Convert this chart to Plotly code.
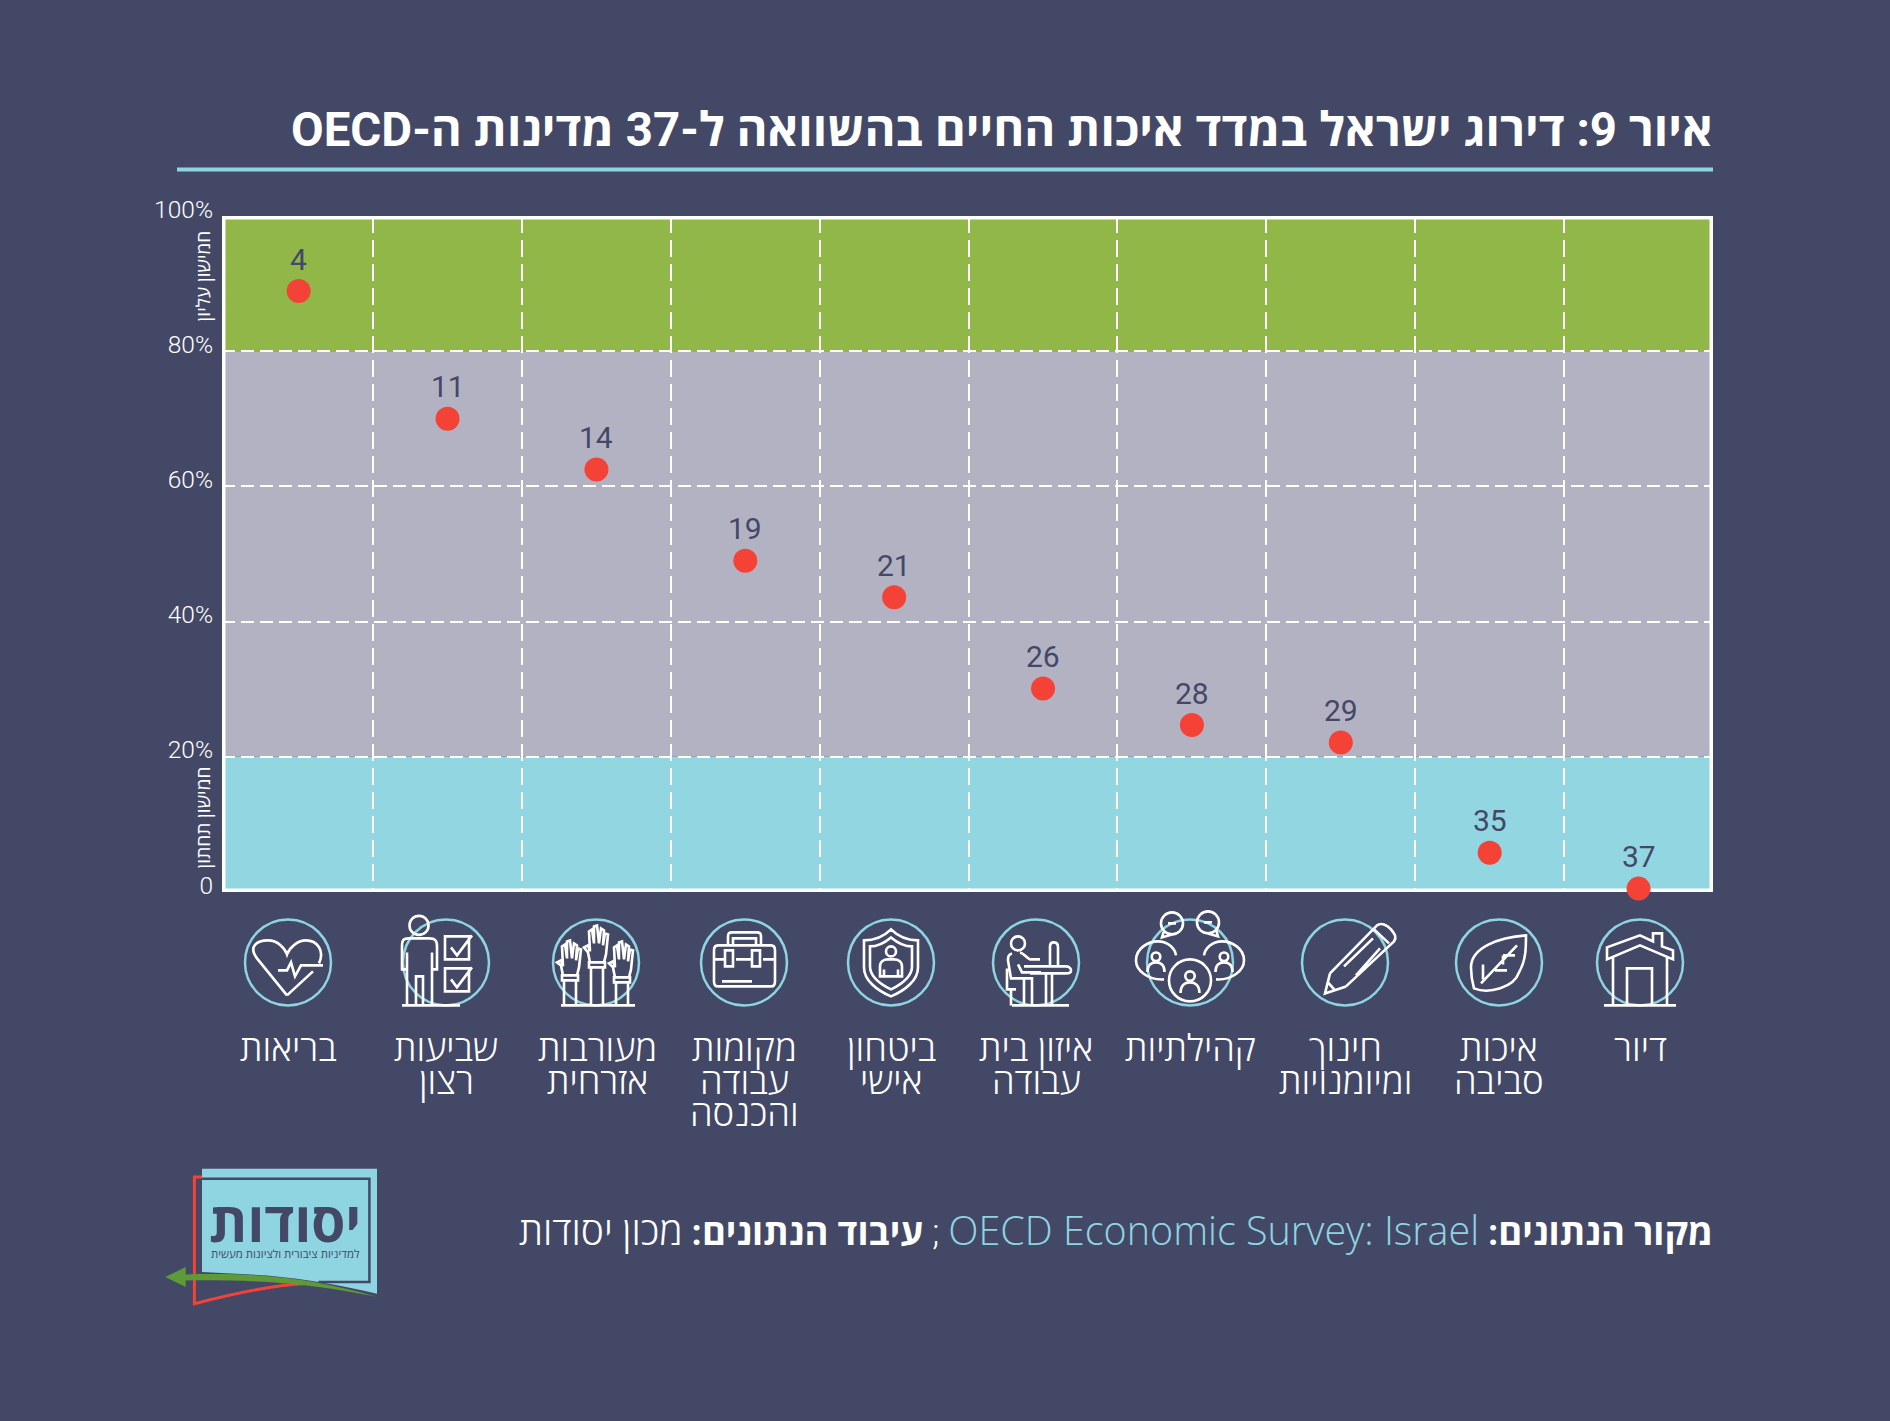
import re
import plotly.graph_objects as go

# ---------- data ----------
categories = [["בריאות"], ["שביעות", "רצון"], ["מעורבות", "אזרחית"], ["מקומות", "עבודה", "והכנסה"],
              ["ביטחון", "אישי"], ["איזון בית", "עבודה"], ["קהילתיות"], ["חינוך", "ומיומנויות"],
              ["איכות", "סביבה"], ["דיור"]]
ranks = [4, 11, 14, 19, 21, 26, 28, 29, 35, 37]
percentiles = [88.9, 70.0, 62.5, 49.0, 43.6, 30.1, 24.7, 22.1, 5.8, 0.5]
y_ticks = [0, 20, 40, 60, 80, 100]
y_labels = ["0", "20%", "40%", "60%", "80%", "100%"]
bands = [(80, 100, "#91B748"), (20, 80, "#B3B2C3"), (0, 20, "#91D6E0")]

TITLE = "איור 9: דירוג ישראל במדד איכות החיים בהשוואה ל-37 מדינות ה-OECD"
BG, TEAL, WHITE, RED = "#444867", "#8FD5E1", "#FFFFFF", "#F44336"
FONT = "Roboto, 'Open Sans', 'Liberation Sans', sans-serif"
HEB = "'Open Sans', 'Liberation Sans', sans-serif"
RLE, PDF = "\u202b", "\u202c"

W, H = 1890, 1421
L, R, T, B = 222, 1713, 215.6, 891.6
X0, X1 = -0.515, 9.5
px = lambda x: (x - L) / (R - L)
py = lambda y: 1 - (y - T) / (B - T)

def path(cx, cy, d):
    out, nums = [], []
    for tok in re.findall(r"[MLCQZ]|-?\d+\.?\d*", d):
        if tok in "MLCQZ":
            out.append(tok)
        else:
            nums.append(float(tok))
            if len(nums) == 2:
                out.append(f"{px(cx + nums[0]):.5f},{py(cy + nums[1]):.5f}")
                nums = []
    return " ".join(out)

def circ(x, y, r):
    k = r * 0.5523
    return (f"M{x-r} {y} C{x-r} {y-k} {x-k} {y-r} {x} {y-r} C{x+k} {y-r} {x+r} {y-k} {x+r} {y} "
            f"C{x+r} {y+k} {x+k} {y+r} {x} {y+r} C{x-k} {y+r} {x-r} {y+k} {x-r} {y} ")

def bust(x, y, s=1.0):
    return circ(x, y - 6 * s, 4.5 * s) + (f"M{x-9*s} {y+10*s} C{x-9*s} {y+2*s} {x-4*s} {y} {x} {y} "
                                          f"C{x+4*s} {y} {x+9*s} {y+2*s} {x+9*s} {y+10*s} ")

def hand(x, top, cuff, base):
    return (f"M{x-7} {cuff} L{x-9} {cuff-10} L{x-13} {top+22} L{x-9} {top+20} L{x-7} {top+26} L{x-8} {top+6} "
            f"L{x-5} {top+4} L{x-3} {top+18} L{x-3} {top+1} L{x} {top} L{x+2} {top+18} L{x+4} {top+3} L{x+7} {top+5} "
            f"L{x+6} {top+20} L{x+8} {top+8} L{x+11} {top+9} L{x+9} {cuff-8} L{x+7} {cuff} Z "
            f"M{x-8} {cuff} L{x+8} {cuff} L{x+8} {cuff+5} L{x-8} {cuff+5} Z "
            f"M{x-6} {cuff+5} L{x-6} {base} M{x+6} {cuff+5} L{x+6} {base} ")

icon_centres = [(288, 962), (446, 962), (596, 962), (744, 962), (891, 962),
                (1036, 962), (1190, 962), (1345, 962), (1499, 962), (1640, 962)]
icons = [
    # health
    "M-1 33 L-31 -4 C-40 -16 -31 -22 -20 -22 C-10 -22 -3 -14 -1 -8 C1 -14 9 -22 18 -22 C29 -22 37 -12 31 1 "
    "M25 9 L-1 33 M-10 8 L-1 8 L3 0 L7 14 L13 3 L35 3",
    # satisfaction
    circ(-27, -37, 9.5) + "M-37 -24 L-17 -24 C-11 -24 -9 -22 -9 -16 L-9 7 L-14 7 L-14 -10 M-37 -24 C-43 -24 -44 -22 -44 -16 "
    "L-44 7 L-39 7 L-39 -10 M-39 7 L-39 43 M-14 7 L-14 43 M-30 43 L-30 14 L-23 14 L-23 43 "
    "M-1 -26 L23 -26 L23 -3 L-1 -3 Z M5 -15 L11 -7 L26 -27 M-1 6 L23 6 L23 29 L-1 29 Z M5 17 L11 25 L26 5 M-44 43 L14 43",
    # civic engagement
    hand(1, -37, 0, 43) + hand(-26, -22, 13, 43) + hand(26, -21, 15, 43) + "M-35 43 L39 43",
    # jobs
    "M-26 -17 L27 -17 C30 -17 31 -15 31 -12 L31 19 C31 22 30 24 27 24 L-26 24 C-29 24 -30 22 -30 19 L-30 -12 C-30 -15 -29 -17 -26 -17 Z "
    "M-16 -17 L-16 -26 C-16 -29 -15 -30 -12 -30 L13 -30 C16 -30 17 -29 17 -26 L17 -17 M-11 -17 L-11 -24 L12 -24 L12 -17 "
    "M-30 -3 L-19 -3 M-8 -3 L8 -3 M19 -3 L31 -3 M-19 -12 L-11 -12 L-11 4 L-19 4 Z M8 -12 L16 -12 L16 4 L8 4 Z M-22 19 L8 19",
    # safety
    "M0 -33 C6 -27 16 -22 27 -22 L27 5 C27 18 14 28 0 34 C-14 28 -27 18 -27 5 L-27 -22 C-16 -22 -6 -27 0 -33 Z "
    "M0 -25 C6 -20 14 -16 21 -16 L21 4 C21 14 10 22 0 27 C-10 22 -21 14 -21 4 L-21 -16 C-14 -16 -6 -20 0 -25 Z "
    + circ(0, -11, 5) + "M-11 14 L-11 4 C-11 -1 -7 -3 -3 -3 L3 -3 C7 -3 11 -1 11 4 L11 14 Z M-7 14 L-7 7 M7 14 L7 7",
    # work-life balance
    circ(-18, -19, 7) + "M-24 43 L33 43 M-24 -9 C-28 -8 -28 -5 -28 -2 L-25 16 L-4 16 L-4 43 M-16 -10 C-12 -9 -10 -5 -6 -3 L4 -3 "
    "M-18 2 L-14 10 L5 10 M-12 4 L30 4 C34 4 35 7 35 8 C35 10 34 11 30 11 L-6 11 M14 4 L14 -16 C14 -19 16 -20 18 -20 "
    "C21 -20 22 -18 22 -15 L22 4 M10 11 L10 43 M16 11 L16 43 M-29 6 L-29 27 L-20 27 M-25 27 L-25 43 M-12 16 L-12 43",
    # community
    circ(0, 18, 21) + bust(0, 20, 1.05) +
    "M-26 17 C-42 18 -54 8 -54 -2 C-54 -14 -42 -21 -32 -21 C-22 -21 -15 -14 -14 -7 " + bust(-34, 0, 0.95) +
    "M26 17 C42 18 54 8 54 -2 C54 -14 42 -21 32 -21 C22 -21 15 -14 14 -7 " + bust(34, 0, 0.95) +
    circ(-18, -39, 11) + "M-26 -32 L-28 -25 L-18 -28 M-22 -39 L-14 -39 " +
    circ(18, -40, 11) + "M26 -33 L28 -26 L18 -29 M14 -40 L22 -40",
    # education
    "M-15 11 L32 -37 C36 -40 42 -38 46 -33 C50 -28 52 -25 49 -21 L1 24 M-15 11 L-20 31 L1 24 M-17 20 L-10 28 "
    "M-1 4 L28 -24 M11 13 L35 -14 M28 -34 L44 -19",
    # environment
    "M27 -27 C0 -25 -28 -15 -28 5 C-28 15 -25 26 -25 26 C-10 32 15 25 20 10 C27 -2 27 -15 27 -27 Z "
    "M18 -17 L-18 21 M-16 2 L-16 17 M-4 8 L8 8 M4 -7 L16 -7 M4 -7 L4 2",
    # housing
    "M-33 -9 L-33 -15 L0 -27 L13 -21 L13 -29 L22 -29 L22 -16 L33 -12 L33 -3 L0 -17 L-33 -3 Z "
    "M-27 -5 L-27 43 M27 -5 L27 43 M-13 43 L-13 6 L12 6 L12 43 M-36 43 L36 43",
]

# ---------- figure ----------
fig = go.Figure()
fig.add_trace(go.Scatter(
    x=list(range(len(ranks))), y=percentiles, mode="markers",
    marker=dict(color=RED, size=24, line=dict(width=0)), cliponaxis=False,
    hoverinfo="skip", showlegend=False))

shapes = []
for lo, hi, colour in bands:
    shapes.append(dict(type="rect", xref="x domain", yref="y", x0=0, x1=1, y0=lo, y1=hi,
                       fillcolor=colour, line_width=0, layer="below"))
# frame: half of its width is clipped at the plot edge
shapes.append(dict(type="rect", xref="x", yref="y", x0=X0, x1=X1, y0=y_ticks[0], y1=y_ticks[-1],
                   line=dict(color=WHITE, width=7), layer="between"))
# rule under the title
shapes.append(dict(type="line", xref="paper", yref="paper", x0=px(177), x1=px(1713), y0=py(169), y1=py(169),
                   line=dict(color=TEAL, width=4)))
# icons
for (cx, cy), d in zip(icon_centres, icons):
    shapes.append(dict(type="path", xref="paper", yref="paper", path=path(cx, cy, circ(0, 0, 43)),
                       line=dict(color=TEAL, width=2.5)))
    shapes.append(dict(type="path", xref="paper", yref="paper", path=path(cx, cy, d),
                       line=dict(color=WHITE, width=2.6)))
# logo
LX, LY = 150, 1150
def lp(d):
    toks = re.findall(r"[MLCQZ]|-?\d+\.?\d*", d)
    out, i = [], 0
    for tok in toks:
        if tok in "MLCQZ":
            out.append(tok)
        else:
            out.append(f"{float(tok)/1.96:.1f}" if i % 2 == 0 else f"{float(tok)/3:.1f}")
            i += 1
    return path(LX, LY, " ".join(out))
shapes += [
    dict(type="path", xref="paper", yref="paper", fillcolor=TEAL, line_width=0,
         path=lp("M102 55 L445 55 L445 430 C380 405 300 385 230 375 L102 365 Z")),
    dict(type="path", xref="paper", yref="paper", line=dict(color=BG, width=2.5),
         path=lp("M102 85 L430 85 L430 395 L330 395")),
    dict(type="path", xref="paper", yref="paper", line=dict(color=RED, width=3),
         path=lp("M102 80 L87 80 L87 460 C150 435 230 405 300 400")),
    dict(type="path", xref="paper", yref="paper", line_width=0, fillcolor="#5E9A38",
         path=lp("M30 380 L70 350 L70 372 C200 368 300 375 447 440 C300 395 200 388 70 390 L70 410 Z")),
]

ann = []
def text(x, y, s, size, color=WHITE, anchor="center", family=HEB, angle=0, weight=None):
    ann.append(dict(xref="paper", yref="paper", x=px(x), y=py(y), text=s, showarrow=False, xanchor=anchor,
                    yanchor="middle", textangle=angle, font=dict(size=size, color=color, family=family, weight=weight)))

text(1715, 129.5, RLE + "<b>" + TITLE + "</b>" + PDF, 47.4, family=FONT, anchor="right")
for i, (rank, value) in enumerate(zip(ranks, percentiles)):
    ann.append(dict(x=i, y=value, xref="x", yref="y", text=str(rank), showarrow=False, yshift=32,
                    font=dict(size=30, color=BG, family="Roboto")))
label_x = [288, 446, 597, 744, 891, 1036, 1190, 1345, 1499, 1640]
for x, lines in zip(label_x, categories):
    for j, line in enumerate(lines):
        text(x, 1047 + 32.5 * j, line, 36.5, weight=300)
text(203, 276, "חמישון עליון", 19, angle=-90)
text(203, 817, "חמישון תחתון", 19, angle=-90)
footer = (RLE + "<b>מקור הנתונים:</b> <span style='color:" + TEAL + ";font-size:39.5px;font-family:\"Open Sans\"'>OECD Economic Survey: Israel</span> ; "
          "<b>עיבוד הנתונים:</b> <span style='font-size:39px'>מכון יסודות</span>" + PDF)
text(1715, 1230, footer, 36.5, family=FONT, anchor="right", weight=300)
text(285, 1220, "<b>יסודות</b>", 55, color=BG)
text(285, 1253, "למדיניות ציבורית ולציונות מעשית", 11.4, color=BG)

fig.update_layout(
    width=W, height=H, autosize=False, paper_bgcolor=BG, plot_bgcolor=BG,
    margin=dict(l=L, r=W - R, t=T, b=H - B, autoexpand=False), showlegend=False,
    shapes=shapes, annotations=ann, font=dict(family=FONT, color=WHITE),
    xaxis=dict(range=[X0, X1], tickvals=[k + 0.5 for k in range(9)], showticklabels=False, ticks="",
               showgrid=True, gridcolor=WHITE, griddash="17px,7px", gridwidth=2, zeroline=False,
               showline=False, fixedrange=True),
    yaxis=dict(range=[0, 100], tickvals=y_ticks, ticktext=y_labels, ticks="",
               tickfont=dict(size=24.5, color=WHITE, family="Roboto", weight=300), ticklabelstandoff=8, ticklabelshift=-7,
               showgrid=True, gridcolor=WHITE, griddash="13px,6px", gridwidth=2, zeroline=False,
               showline=False, fixedrange=True),
)
fig.write_html("out.html", config={"displayModeBar": False},
               post_script="document.body.style.margin='0';document.body.style.background='" + BG + "';")
